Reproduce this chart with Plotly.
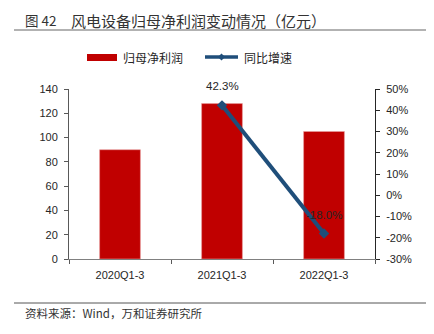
import plotly.graph_objects as go

categories = ["2020Q1-3", "2021Q1-3", "2022Q1-3"]
profit = [90, 128, 105]
growth_cat = ["2021Q1-3", "2022Q1-3"]
growth = [42.3, -18.0]
growth_labels = ["42.3%", "-18.0%"]
left_ticks = [0, 20, 40, 60, 80, 100, 120, 140]
right_ticks = [-30, -20, -10, 0, 10, 20, 30, 40, 50]
right_labels = [f"{v}%" for v in right_ticks]

FONT = "Noto Sans CJK SC, Noto Sans, sans-serif"
TICKFONT = dict(family="Liberation Sans, Arial, sans-serif", size=11, color="#262626")
RED = "#C00000"
BLUE = "#1F4E7A"

# plot area in pixels: x 69..375, y 89..259
PL, PR, PT, PB = 69, 375, 89, 259
def px(x):
    return (x - PL) / (PR - PL)
def py(y):
    return (PB - y) / (PB - PT)

fig = go.Figure()
fig.add_trace(go.Bar(
    x=categories, y=profit, name="归母净利润",
    marker=dict(color=RED, line=dict(color="#E8A0A0", width=0.6)),
    width=0.4, showlegend=False,
))
fig.add_trace(go.Scatter(
    x=growth_cat, y=growth, name="同比增速", yaxis="y2",
    mode="lines+markers",
    line=dict(color=BLUE, width=4),
    marker=dict(symbol="diamond", size=8, color=BLUE),
    cliponaxis=False, showlegend=False,
))
for c, v, t in zip(growth_cat, growth, growth_labels):
    fig.add_annotation(x=c, y=v, xref="x", yref="y2", text=t, showarrow=False,
                       yshift=19, font=dict(family="Liberation Sans, Arial, sans-serif",
                                            size=11.5, color="#262626"))

fig.update_layout(
    width=434, height=334,
    margin=dict(l=PL, r=434 - PR, t=PT, b=334 - PB),
    paper_bgcolor="white", plot_bgcolor="white",
    showlegend=False,
    xaxis=dict(
        tickfont=TICKFONT, showline=True, linecolor="#808080", linewidth=1,
        ticks="outside", tickson="boundaries", ticklen=4, tickcolor="#595959",
        showgrid=False, ticklabelstandoff=6,
    ),
    yaxis=dict(
        range=[0, 140], tickvals=left_ticks, tickfont=TICKFONT,
        showline=True, linecolor="#595959", linewidth=1,
        ticks="outside", ticklen=4, tickcolor="#595959", showgrid=False,
        zeroline=False, ticklabelstandoff=4,
    ),
    yaxis2=dict(
        range=[-30, 50], tickvals=right_ticks, ticktext=right_labels,
        tickfont=TICKFONT, overlaying="y", side="right",
        showline=True, linecolor="#262626", linewidth=1,
        ticks="outside", ticklen=4, tickcolor="#262626", showgrid=False,
        zeroline=False, ticklabelstandoff=4,
    ),
)

# manual legend
fig.add_shape(type="rect", xref="paper", yref="paper",
              x0=px(87), x1=px(117), y0=py(54), y1=py(61),
              fillcolor=RED, line=dict(width=0))
fig.add_annotation(text="归母净利润", xref="paper", yref="paper", x=px(121), y=py(57),
                   xanchor="left", yanchor="middle", showarrow=False,
                   font=dict(family=FONT, size=12, color="#262626"))
fig.add_shape(type="line", xref="paper", yref="paper",
              x0=px(205), x1=px(238), y0=py(57), y1=py(57),
              line=dict(color=BLUE, width=3.5))
fig.add_shape(type="path", xref="paper", yref="paper",
              path=f"M {px(221.5)},{py(53.5)} L {px(225)},{py(57)} L {px(221.5)},{py(60.5)} L {px(218)},{py(57)} Z",
              fillcolor=BLUE, line=dict(width=0))
fig.add_annotation(text="同比增速", xref="paper", yref="paper", x=px(242), y=py(57),
                   xanchor="left", yanchor="middle", showarrow=False,
                   font=dict(family=FONT, size=12, color="#262626"))

fig.add_annotation(
    text="图 42", xref="paper", yref="paper",
    x=px(23), y=py(20), xanchor="left", yanchor="middle",
    showarrow=False, font=dict(family=FONT, size=13.5, color="#333333"),
)
fig.add_annotation(
    text="风电设备归母净利润变动情况（亿元）", xref="paper", yref="paper",
    x=px(69), y=py(20), xanchor="left", yanchor="middle",
    showarrow=False, font=dict(family=FONT, size=15, color="#333333"),
)
fig.add_annotation(
    text="资料来源：Wind，万和证券研究所", xref="paper", yref="paper",
    x=px(23), y=py(313), xanchor="left", yanchor="middle",
    showarrow=False, font=dict(family=FONT, size=11.5, color="#333333"),
)
fig.add_shape(type="line", xref="paper", yref="paper",
              x0=px(14), x1=px(426), y0=py(30), y1=py(30),
              line=dict(color="#999999", width=1.5))
fig.add_shape(type="line", xref="paper", yref="paper",
              x0=px(14), x1=px(426), y0=py(303), y1=py(303),
              line=dict(color="#555555", width=1))

fig.write_html("out.html")
